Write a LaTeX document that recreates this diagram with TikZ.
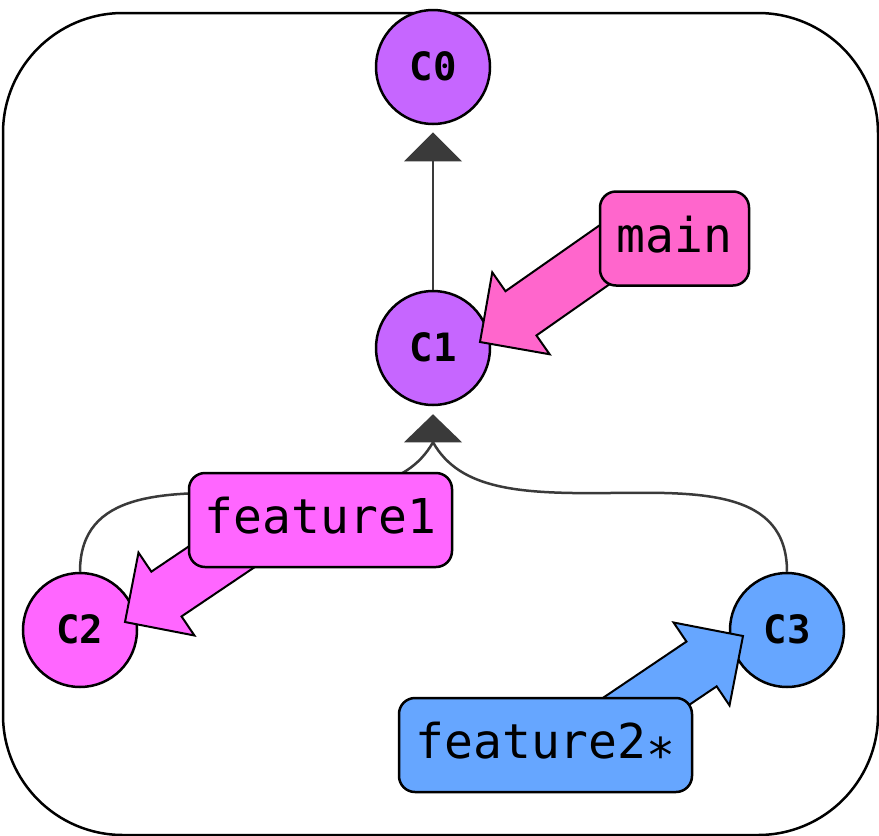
\documentclass[tikz,border=0pt]{standalone}
\usepackage{fontspec}
\setmonofont{DejaVu Sans Mono}
\usetikzlibrary{calc}
\definecolor{cpurple}{RGB}{198,102,255}
\definecolor{cpink}{RGB}{255,102,204}
\definecolor{cmagenta}{RGB}{255,102,255}
\definecolor{cblue}{RGB}{102,166,255}
\definecolor{linkgray}{RGB}{58,58,58}
\begin{document}
\begin{tikzpicture}[x=1pt,y=-1pt,
  commit/.style={circle, draw=black, line width=2.5pt, minimum size=114pt, inner sep=0pt,
    text height=26pt, text depth=0pt,
    font=\ttfamily\bfseries\fontsize{39}{39}\selectfont},
  branch/.style={rectangle, rounded corners=16pt, draw=black, line width=2.5pt,
    minimum height=94pt, inner sep=0pt, text height=27pt, text depth=0pt,
    font=\ttfamily\fontsize{48}{48}\selectfont},
  link/.style={draw=linkgray, line width=2.5pt},
  headtri/.style={fill=linkgray},
  fatarrow/.style={draw=black, line width=2pt, line join=miter},
  frame/.style={draw=black, line width=2.5pt, rounded corners=120pt}
]
\useasboundingbox (0,0) rectangle (879,836);
\fill[white] (0,0) rectangle (879,836);
\draw[frame] (3,13) rectangle (878,835);

% commits
\node[commit, fill=cpurple] (C0) at (433,67) {C0};
\node[commit, fill=cpurple] (C1) at (433,348) {C1};
\node[commit, fill=cmagenta] (C2) at (80,630) {C2};
\node[commit, fill=cblue] (C3) at (787,630) {C3};

% parent links
\coordinate (T0) at ($(C0.south)+(0,7)$);
\coordinate (B0) at ($(T0)+(0,29)$);
\coordinate (T1) at ($(C1.south)+(0,8)$);
\coordinate (B1) at ($(T1)+(0,28)$);
\draw[link] (C1.north) -- (B0);
\fill[headtri] (T0) -- ++(29,29) -- ++(-58,0) -- cycle;
\draw[link] (C2.north) .. controls (80,490) and (166,492) .. (256,493)
  .. controls (346,494) and (406,490) .. (B1);
\draw[link] (C3.north) .. controls (787,490) and (700,492) .. (610,493)
  .. controls (520,494) and (460,490) .. (B1);
\fill[headtri] (T1) -- ++(29,28) -- ++(-58,0) -- cycle;

% branch pointers
\begin{scope}[shift={($(C1.center)+(47,-6)$)}, rotate=35]
  \filldraw[fatarrow, fill=cpink] (0,0) -- (50,-50) -- (50,-27) -- (200,-27)
    -- (200,27) -- (50,27) -- (50,50) -- cycle;
\end{scope}
\begin{scope}[shift={($(C2.center)+(45,-8)$)}, rotate=34]
  \filldraw[fatarrow, fill=cmagenta] (0,0) -- (50,-50) -- (50,-27) -- (150,-27)
    -- (150,27) -- (50,27) -- (50,50) -- cycle;
\end{scope}
\begin{scope}[shift={($(C3.center)+(-44,6)$)}, rotate=214]
  \filldraw[fatarrow, fill=cblue] (0,0) -- (50,-50) -- (50,-27) -- (170,-27)
    -- (170,27) -- (50,27) -- (50,50) -- cycle;
\end{scope}

% branch labels
\node[branch, fill=cpink, minimum width=149pt] (main) at (674.5,238.5) {main};
\node[branch, fill=cmagenta, minimum width=263pt] (f1) at (320.5,520) {feature1};
\node[branch, fill=cblue, minimum width=293pt] (f2) at (545.5,745) {feature2\raisebox{-0.3em}{*}};
\end{tikzpicture}
\end{document}
